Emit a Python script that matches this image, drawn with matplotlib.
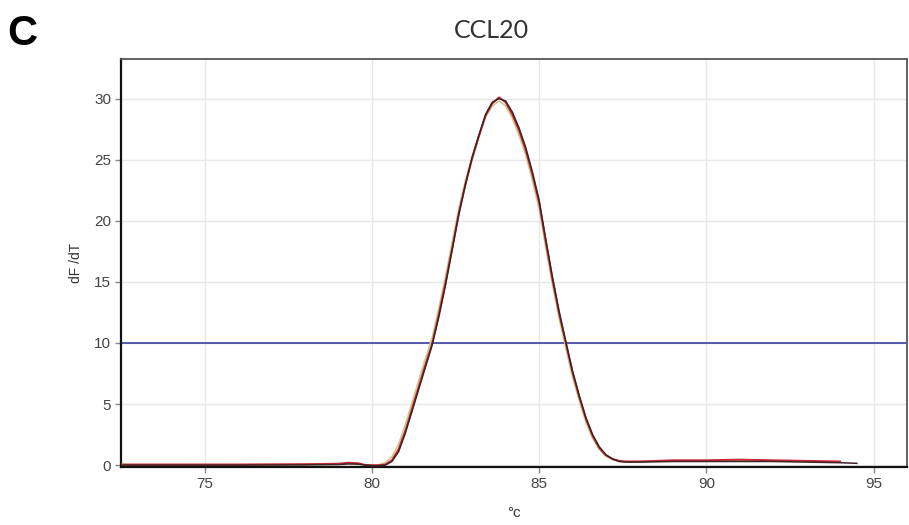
import matplotlib
matplotlib.use("Agg")
import matplotlib.pyplot as plt
import numpy as np

# 数据：熔解曲线 (dF/dT vs 温度)
temp = [72.5, 74.0, 76.0, 78.0, 79.0, 79.3, 79.6, 79.8,
        80.0, 80.2, 80.4, 80.6, 80.8, 81.0, 81.2, 81.4, 81.6, 81.8,
        82.0, 82.2, 82.4, 82.6, 82.8, 83.0, 83.2, 83.4, 83.6, 83.8,
        84.0, 84.2, 84.4, 84.6, 84.8, 85.0, 85.2, 85.4, 85.6, 85.8,
        86.0, 86.2, 86.4, 86.6, 86.8, 87.0, 87.2, 87.4, 87.6, 87.8,
        88.0, 89.0, 90.0, 91.0, 92.0, 93.0, 94.0, 94.5]

olive = [0.05, 0.05, 0.05, 0.06, 0.1, 0.15, 0.12, 0.02,
         0.0, 0.02, 0.2, 0.7, 1.7, 3.3, 5.1, 6.9, 8.7, 10.4,
         12.8, 15.4, 18.2, 21.0, 23.3, 25.3, 27.0, 28.5, 29.4, 29.8,
         29.4, 28.4, 27.0, 25.4, 23.3, 21.0, 17.8, 14.8, 12.0, 9.6,
         7.2, 5.3, 3.5, 2.2, 1.3, 0.75, 0.45, 0.3, 0.3, 0.3,
         0.3, 0.35, 0.35, 0.4, 0.35, 0.3, 0.25, np.nan]

red = [0.05, 0.05, 0.05, 0.08, 0.12, 0.2, 0.15, 0.02,
       0.0, 0.0, 0.05, 0.4, 1.3, 2.8, 4.6, 6.4, 8.2, 9.9,
       12.3, 14.9, 17.7, 20.6, 23.0, 25.1, 26.9, 28.6, 29.6, 30.1,
       29.7, 28.7, 27.4, 25.8, 23.8, 21.5, 18.3, 15.2, 12.4, 10.0,
       7.6, 5.6, 3.8, 2.4, 1.4, 0.8, 0.5, 0.35, 0.3, 0.3,
       0.3, 0.4, 0.4, 0.45, 0.4, 0.35, 0.3, np.nan]

dark = [0.0, 0.0, 0.0, 0.02, 0.05, 0.1, 0.08, 0.0,
        -0.05, -0.05, 0.0, 0.3, 1.1, 2.6, 4.4, 6.2, 8.0, 9.8,
        12.1, 14.7, 17.6, 20.5, 23.0, 25.2, 27.0, 28.7, 29.7, 30.0,
        29.8, 28.9, 27.6, 26.0, 24.0, 21.7, 18.5, 15.4, 12.6, 10.1,
        7.7, 5.7, 3.9, 2.5, 1.5, 0.85, 0.5, 0.3, 0.25, 0.25,
        0.25, 0.3, 0.3, 0.3, 0.3, 0.25, 0.2, 0.15]

threshold = 10
x_ticks = [75, 80, 85, 90, 95]
y_ticks = [0, 5, 10, 15, 20, 25, 30]

fig = plt.figure(figsize=(9.09, 5.25), dpi=100)
ax = fig.add_axes([0.1331, 0.1105, 0.8647, 0.7762])

ax.plot(temp, olive, color="#cfc88a", lw=1.2, zorder=3)
ax.plot(temp, red, color="#c92838", lw=1.4, zorder=4)
ax.plot(temp, dark, color="#3c2424", lw=1.1, zorder=5)
ax.axhline(threshold, color="#4a4aa8", lw=1.3, zorder=2)

ax.set_xlim(72.5, 96.0)
ax.set_ylim(-0.15, 33.2)
ax.set_xticks(x_ticks)
ax.set_yticks(y_ticks)
ax.grid(True, color="#e8e8e8", lw=1.0, zorder=0)
ax.set_axisbelow(True)

ax.tick_params(length=4, width=1, color="#888888", labelcolor="#444444",
               labelsize=11, pad=3)
for lab in ax.get_xticklabels() + ax.get_yticklabels():
    lab.set_fontfamily("Liberation Sans")

for side in ["left", "bottom"]:
    ax.spines[side].set_color("#111111")
    ax.spines[side].set_linewidth(1.6)
for side in ["top", "right"]:
    ax.spines[side].set_color("#555555")
    ax.spines[side].set_linewidth(1.3)

ax.set_ylabel("dF /dT", fontsize=10, color="#333333", family="Liberation Sans",
              labelpad=8)
ax.set_xlabel("°c", fontsize=11, color="#333333", family="Liberation Sans",
              labelpad=11)

fig.text(0.541, 0.942, "CCL20", ha="center", va="center", fontsize=18,
         color="#333333", family="Lato")
fig.text(0.008, 0.915, "C", ha="left", va="baseline", fontsize=30,
         fontweight="bold", family="Liberation Sans")

plt.savefig("out.png", dpi=100)
